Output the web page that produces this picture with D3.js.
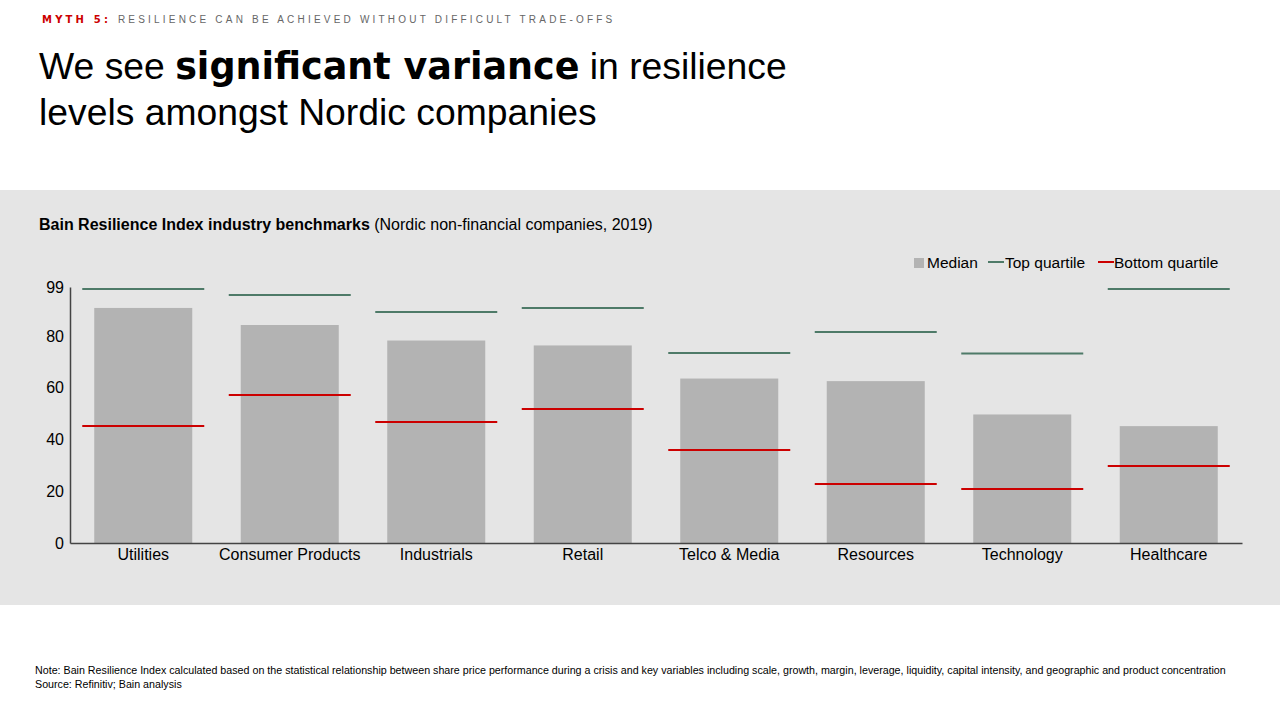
<!DOCTYPE html>
<html>
<head>
<meta charset="utf-8">
<script src="https://cdn.jsdelivr.net/npm/d3@7"></script>
<style>
  body { margin: 0; background: #fff; }
  svg { display: block; font-family: "Liberation Sans", Arial, sans-serif; }
</style>
</head>
<body>
<svg id="chart" width="1280" height="720"></svg>
<script>
const categories = ['Utilities', 'Consumer Products', 'Industrials', 'Retail', 'Telco & Media', 'Resources', 'Technology', 'Healthcare'];
const median = [90.9, 84.3, 78.3, 76.4, 63.6, 62.6, 49.7, 45.2];
const topQuartile = [98.2, 95.9, 89.3, 90.9, 73.5, 81.6, 73.3, 98.2];
const bottomQuartile = [45.2, 57.2, 46.8, 51.8, 36.0, 22.8, 20.9, 29.8];
const yTicks = [0, 20, 40, 60, 80, 99];

const data = categories.map((c, i) => ({ name: c, median: median[i], top: topQuartile[i], bottom: bottomQuartile[i] }));

const svg = d3.select('#chart');
const width = 1280;
const margin = { top: 287, right: 38, bottom: 177, left: 70 };
const height = 720;

// header
const myth = svg.append('text').attr('x', 42).attr('y', 23).attr('font-size', 10).attr('letter-spacing', 3.2);
myth.append('tspan').attr('fill', '#cc0000').attr('font-weight', 'bold').attr('font-family', '"DejaVu Sans", sans-serif').text('MYTH 5: ');
myth.append('tspan').attr('fill', '#666').text('RESILIENCE CAN BE ACHIEVED WITHOUT DIFFICULT TRADE-OFFS');

const t1 = svg.append('text').attr('x', 39).attr('y', 79).attr('font-size', 37.3).attr('fill', '#000');
t1.append('tspan').text('We see ');
t1.append('tspan').attr('font-weight', 'bold').attr('font-family', '"DejaVu Sans", sans-serif').attr('font-size', 36.5).text('significant variance');
t1.append('tspan').text(' in resilience');
svg.append('text').attr('x', 39).attr('y', 125).attr('font-size', 37.3).attr('fill', '#000')
  .text('levels amongst Nordic companies');

// panel
svg.append('rect').attr('x', 0).attr('y', 190).attr('width', width).attr('height', 415).attr('fill', '#e5e5e5');

const sub = svg.append('text').attr('x', 39).attr('y', 230).attr('font-size', 16).attr('fill', '#000');
sub.append('tspan').attr('font-weight', 'bold').text('Bain Resilience Index industry benchmarks');
sub.append('tspan').text(' (Nordic non-financial companies, 2019)');

const x = d3.scaleBand()
  .domain(categories)
  .range([margin.left, width - margin.right]);

const y = d3.scaleLinear()
  .domain([0, 99])
  .range([height - margin.bottom, margin.top]);

const barW = 98;
const lineW = 122;

svg.append('g')
  .attr('fill', '#b3b3b3')
  .selectAll('rect')
  .data(data)
  .join('rect')
    .attr('x', d => x(d.name) + x.bandwidth() / 2 - barW / 2)
    .attr('y', d => y(d.median))
    .attr('width', barW)
    .attr('height', d => y(0) - y(d.median));

svg.append('g')
  .attr('stroke', '#4e7a68').attr('stroke-width', 2)
  .selectAll('line')
  .data(data)
  .join('line')
    .attr('x1', d => x(d.name) + x.bandwidth() / 2 - lineW / 2)
    .attr('x2', d => x(d.name) + x.bandwidth() / 2 + lineW / 2)
    .attr('y1', d => y(d.top)).attr('y2', d => y(d.top));

svg.append('g')
  .attr('stroke', '#cc0000').attr('stroke-width', 2)
  .selectAll('line')
  .data(data)
  .join('line')
    .attr('x1', d => x(d.name) + x.bandwidth() / 2 - lineW / 2)
    .attr('x2', d => x(d.name) + x.bandwidth() / 2 + lineW / 2)
    .attr('y1', d => y(d.bottom)).attr('y2', d => y(d.bottom));

// axes
const yAxis = svg.append('g')
  .attr('transform', `translate(${margin.left},0)`)
  .call(d3.axisLeft(y).tickValues(yTicks).tickSize(0).tickPadding(6));
yAxis.select('.domain').attr('stroke', '#444').attr('stroke-width', 1.5);
yAxis.selectAll('text').attr('font-size', 16).attr('fill', '#000').attr('font-family', '"Liberation Sans", Arial, sans-serif');

const xAxis = svg.append('g')
  .attr('transform', `translate(0,${y(0)})`)
  .call(d3.axisBottom(x).tickSize(0).tickPadding(6).tickSizeOuter(0));
xAxis.select('.domain').attr('stroke', '#444').attr('stroke-width', 1.5);
xAxis.selectAll('text').attr('font-size', 16).attr('fill', '#000').attr('font-family', '"Liberation Sans", Arial, sans-serif');

// legend
const lg = svg.append('g').attr('font-size', 15.5).attr('fill', '#000');
lg.append('rect').attr('x', 914).attr('y', 258).attr('width', 10).attr('height', 10).attr('fill', '#b3b3b3');
lg.append('text').attr('x', 927).attr('y', 268).text('Median');
lg.append('line').attr('x1', 988).attr('x2', 1004).attr('y1', 262).attr('y2', 262).attr('stroke', '#4e7a68').attr('stroke-width', 2);
lg.append('text').attr('x', 1005).attr('y', 268).text('Top quartile');
lg.append('line').attr('x1', 1098).attr('x2', 1114).attr('y1', 262).attr('y2', 262).attr('stroke', '#cc0000').attr('stroke-width', 2);
lg.append('text').attr('x', 1114).attr('y', 268).text('Bottom quartile');

// notes
svg.append('text').attr('x', 35).attr('y', 674).attr('font-size', 10.7).attr('fill', '#000')
  .text('Note: Bain Resilience Index calculated based on the statistical relationship between share price performance during a crisis and key variables including scale, growth, margin, leverage, liquidity, capital intensity, and geographic and product concentration');
svg.append('text').attr('x', 35).attr('y', 688).attr('font-size', 10.7).attr('fill', '#000')
  .text('Source: Refinitiv; Bain analysis');
</script>
</body>
</html>
